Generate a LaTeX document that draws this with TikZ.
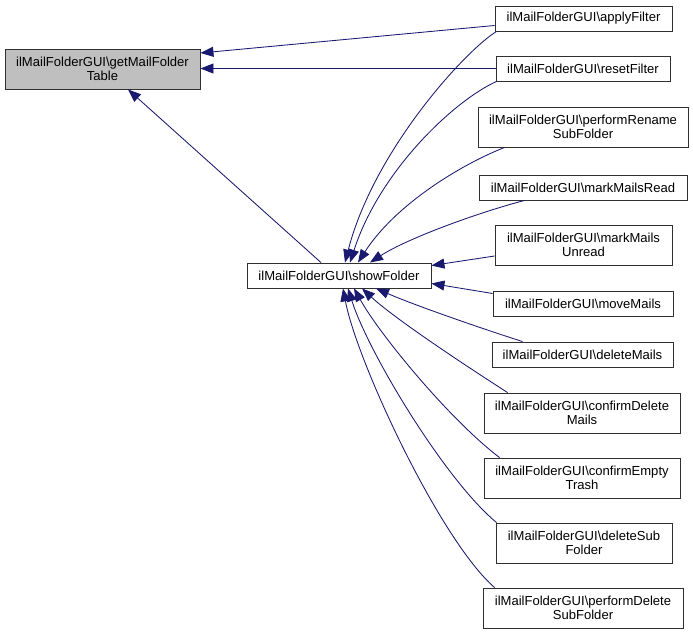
\documentclass[tikz,border=0pt]{standalone}
\usepackage{fontspec}
\setmainfont{Liberation Sans}
\usetikzlibrary{arrows.meta,calc}
\definecolor{edgeblue}{HTML}{191970}
\definecolor{boxgray}{HTML}{BFBFBF}
\definecolor{boxline}{HTML}{303030}
\begin{document}
\begin{tikzpicture}[x=1bp,y=-1bp,
  box/.style={draw=boxline, line width=0.9bp, inner sep=0pt, align=center,
    font=\fontsize{13.1}{14.2}\selectfont},
  edge/.style={draw=edgeblue, line width=0.85bp, -{Triangle[length=13bp,width=10bp]}}]
\useasboundingbox (0,0) rectangle (693,635);
\fill[white] (0,0) rectangle (693,635);

\node[box, fill=boxgray, minimum width=195bp, minimum height=40bp] (gmft) at (102.5,69) {ilMailFolderGUI\textbackslash getMailFolder\\Table};
\node[box, minimum width=184bp, minimum height=25bp] (show) at (339,275.5) {ilMailFolderGUI\textbackslash showFolder};
\node[box, minimum width=177bp, minimum height=25bp] (apply) at (583.5,18.5) {ilMailFolderGUI\textbackslash applyFilter};
\node[box, minimum width=174bp, minimum height=25bp] (reset) at (583,68.5) {ilMailFolderGUI\textbackslash resetFilter};
\node[box, minimum width=210bp, minimum height=40bp] (rename) at (583,127) {ilMailFolderGUI\textbackslash performRename\\SubFolder};
\node[box, minimum width=208bp, minimum height=25bp] (read) at (583,187.5) {ilMailFolderGUI\textbackslash markMailsRead};
\node[box, minimum width=177bp, minimum height=40bp] (unread) at (583.5,245) {ilMailFolderGUI\textbackslash markMails\\Unread};
\node[box, minimum width=180bp, minimum height=25bp] (move) at (583,303.5) {ilMailFolderGUI\textbackslash moveMails};
\node[box, minimum width=181bp, minimum height=25bp] (del) at (582.5,354.5) {ilMailFolderGUI\textbackslash deleteMails};
\node[box, minimum width=196bp, minimum height=40bp] (cdel) at (582,413) {ilMailFolderGUI\textbackslash confirmDelete\\Mails};
\node[box, minimum width=196bp, minimum height=40bp] (ctrash) at (582,478) {ilMailFolderGUI\textbackslash confirmEmpty\\Trash};
\node[box, minimum width=176bp, minimum height=40bp] (dsub) at (584,543) {ilMailFolderGUI\textbackslash deleteSub\\Folder};
\node[box, minimum width=200bp, minimum height=40bp] (pdsub) at (583,608) {ilMailFolderGUI\textbackslash performDelete\\SubFolder};

% edges to getMailFolderTable
\draw[edge] ($(apply.west)+(0,7)$) -- ($(gmft.east)+(0,-16)$);
\draw[edge] (reset.west) -- (gmft.east |- reset.west);
\draw[edge] ($(show.north)+(-18,0)$) -- ($(gmft.south)+(25.5,0)$);

% edges to showFolder (top)
\draw[edge] ($(apply.south west)+(2,0)$) .. controls (466,50) and (374,150) .. ($(show.north)+(6,0)$);
\draw[edge] ($(reset.south west)+(1,0)$) .. controls (455,100) and (380,170) .. ($(show.north)+(11,0)$);
\draw[edge] ($(rename.south west)+(27,0)$) .. controls (460,165) and (395,205) .. ($(show.north)+(19,0)$);
\draw[edge] ($(read.south west)+(46,0)$) .. controls (480,212) and (408,238) .. ($(show.north)+(31,0)$);
% right side
\draw[edge] ($(unread.west)+(0,11)$) -- ($(show.north east)+(0,3)$);
\draw[edge] ($(move.west)+(0,-10)$) -- ($(show.south east)+(0,-5)$);
% bottom
\draw[edge] ($(del.north west)+(31,0)$) .. controls (480,328) and (414,305) .. ($(show.south)+(37,0)$);
\draw[edge] ($(cdel.north west)+(24,0)$) .. controls (460,362) and (394,318) .. ($(show.south)+(23,0)$);
\draw[edge] ($(ctrash.north west)+(16,0)$) .. controls (450,420) and (380,335) .. ($(show.south)+(15,0)$);
\draw[edge] ($(dsub.north west)+(1,0)$) .. controls (445,480) and (368,352) .. ($(show.south)+(9,0)$);
\draw[edge] ($(pdsub.north west)+(12,0)$) .. controls (440,540) and (357,362) .. ($(show.south)+(4,0)$);
\end{tikzpicture}
\end{document}
